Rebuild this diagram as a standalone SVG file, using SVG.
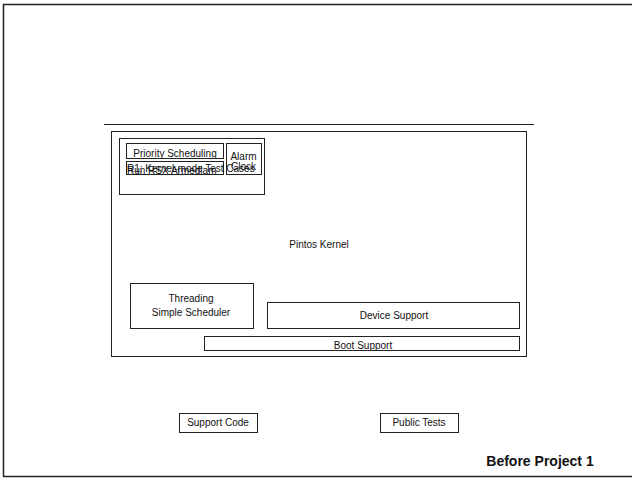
<svg xmlns="http://www.w3.org/2000/svg" width="632" height="478" viewBox="0 0 632 478">
<style>
.b{fill:none;stroke:#222;stroke-width:1}
.t{font-family:"Liberation Sans",Arial,sans-serif;font-size:10px;fill:#111;text-anchor:middle}
.tl{font-family:"Liberation Sans",Arial,sans-serif;font-size:10px;fill:#111}
</style>
<defs>
<clipPath id="cp1"><rect x="126" y="143" width="97" height="15"/></clipPath>
<clipPath id="cp2"><rect x="204" y="336" width="316" height="14"/></clipPath>
</defs>
<rect x="0" y="0" width="632" height="478" fill="#fff"/>
<rect x="3.5" y="4.5" width="640" height="472" fill="none" stroke="#222" stroke-width="1.5"/>
<line x1="104" y1="124.5" x2="534" y2="124.5" stroke="#222" stroke-width="1.2"/>
<g id="kernel">
<rect class="b" x="111.5" y="131.5" width="415" height="225" stroke-width="1.3"/>
<text class="t" x="319" y="248">Pintos Kernel</text>
</g>
<g id="project-box">
<rect class="b" x="119.5" y="138.5" width="145" height="56"/>
</g>
<g id="priority">
<rect class="b" x="126.5" y="143.5" width="97" height="15"/>
<text class="t" x="175" y="157" clip-path="url(#cp1)">Priority Scheduling</text>
</g>
<g id="tests">
<rect class="b" x="126.5" y="161.5" width="97" height="13"/>
<text class="tl" x="127" y="172">R1: Kernel-mode Test Cases</text>
<text class="tl" x="127" y="173.5">Run RSX Armedlam</text>
</g>
<g id="alarm">
<rect class="b" x="226.5" y="143.5" width="35" height="31"/>
<text class="t" x="243.5" y="160">Alarm</text>
<text class="t" x="243.5" y="170">Clock</text>
</g>
<g id="threading">
<rect class="b" x="130.5" y="283.5" width="123" height="45"/>
<text class="t" x="191" y="302">Threading</text>
<text class="t" x="191" y="316">Simple Scheduler</text>
</g>
<g id="device">
<rect class="b" x="267.5" y="302.5" width="252" height="26"/>
<text class="t" x="394" y="319">Device Support</text>
</g>
<g id="boot">
<rect class="b" x="204.5" y="336.5" width="315" height="14"/>
<text class="t" x="363" y="349" clip-path="url(#cp2)">Boot Support</text>
</g>
<g id="support-code">
<rect class="b" x="179.5" y="413.5" width="78" height="19"/>
<text class="t" x="218" y="426">Support Code</text>
</g>
<g id="public-tests">
<rect class="b" x="380.5" y="413.5" width="78" height="19"/>
<text class="t" x="419" y="426">Public Tests</text>
</g>
<g id="title">
<text x="540" y="466" font-family="'Liberation Sans',Arial,sans-serif" font-size="14" font-weight="bold" text-anchor="middle" fill="#111">Before Project 1</text>
</g>
<g id="connectors"></g>
</svg>
